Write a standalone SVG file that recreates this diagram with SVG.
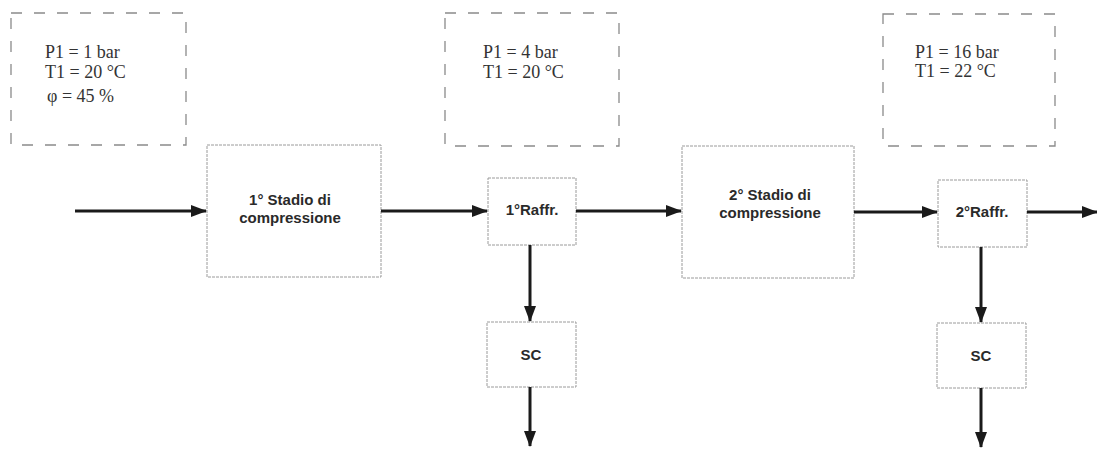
<svg xmlns="http://www.w3.org/2000/svg" width="1097" height="452" viewBox="0 0 1097 452">
<style>
.info{fill:none;stroke:#8a8a8a;stroke-width:1.3;stroke-dasharray:11 12}
.node{fill:#fff;stroke:#9a9a9a;stroke-width:1;stroke-dasharray:3 1}
.it{font-family:"Liberation Serif",serif;font-size:18px;fill:#333}
.lb{font-family:"Liberation Sans",Arial,sans-serif;font-size:15px;font-weight:bold;fill:#2a2a2a;text-anchor:middle}
.c{stroke:#1a1a1a;stroke-width:3;fill:none;marker-end:url(#ah)}
</style>
<defs>
<marker id="ah" markerWidth="16" markerHeight="12" refX="15" refY="6" orient="auto" markerUnits="userSpaceOnUse">
<path d="M0,0 L16,6 L0,12 Z" fill="#1a1a1a"/>
</marker>
</defs>
<rect width="1097" height="452" fill="#fff"/>
<g id="info1">
<rect class="info" x="11" y="13" width="175" height="132"/>
<text class="it" x="45" y="58">P1 = 1 bar</text>
<text class="it" x="45" y="78">T1 = 20 °C</text>
<text class="it" x="47" y="102">φ = 45 %</text>
</g>
<g id="info2">
<rect class="info" x="445" y="13" width="174" height="133"/>
<text class="it" x="483" y="58">P1 = 4 bar</text>
<text class="it" x="483" y="78">T1 = 20 °C</text>
</g>
<g id="info3">
<rect class="info" x="883" y="14" width="172" height="132"/>
<text class="it" x="915" y="58">P1 = 16 bar</text>
<text class="it" x="915" y="77">T1 = 22 °C</text>
</g>
<g id="comp1">
<rect class="node" x="207" y="145" width="174" height="132"/>
<text class="lb" x="290" y="205">1° Stadio di</text>
<text class="lb" x="290" y="223">compressione</text>
</g>
<g id="raffr1">
<rect class="node" x="488" y="178" width="88" height="67"/>
<text class="lb" x="532" y="215">1°Raffr.</text>
</g>
<g id="comp2">
<rect class="node" x="682" y="146" width="172" height="132"/>
<text class="lb" x="770" y="200">2° Stadio di</text>
<text class="lb" x="770" y="218">compressione</text>
</g>
<g id="raffr2">
<rect class="node" x="938" y="180" width="89" height="67"/>
<text class="lb" x="982" y="217">2°Raffr.</text>
</g>
<g id="sc1">
<rect class="node" x="487" y="322" width="89" height="65"/>
<text class="lb" x="531" y="360">SC</text>
</g>
<g id="sc2">
<rect class="node" x="937" y="323" width="89" height="65"/>
<text class="lb" x="981" y="361">SC</text>
</g>
<g id="connectors">
<line class="c" x1="75" y1="211" x2="206" y2="211"/>
<line class="c" x1="381" y1="211" x2="487" y2="211"/>
<line class="c" x1="576" y1="211" x2="681" y2="211"/>
<line class="c" x1="854" y1="212" x2="937" y2="212"/>
<line class="c" x1="1027" y1="212" x2="1097" y2="212"/>
<line class="c" x1="530" y1="245" x2="530" y2="321"/>
<line class="c" x1="530" y1="387" x2="530" y2="446"/>
<line class="c" x1="981" y1="247" x2="981" y2="322"/>
<line class="c" x1="981" y1="388" x2="981" y2="447"/>
</g>
</svg>
